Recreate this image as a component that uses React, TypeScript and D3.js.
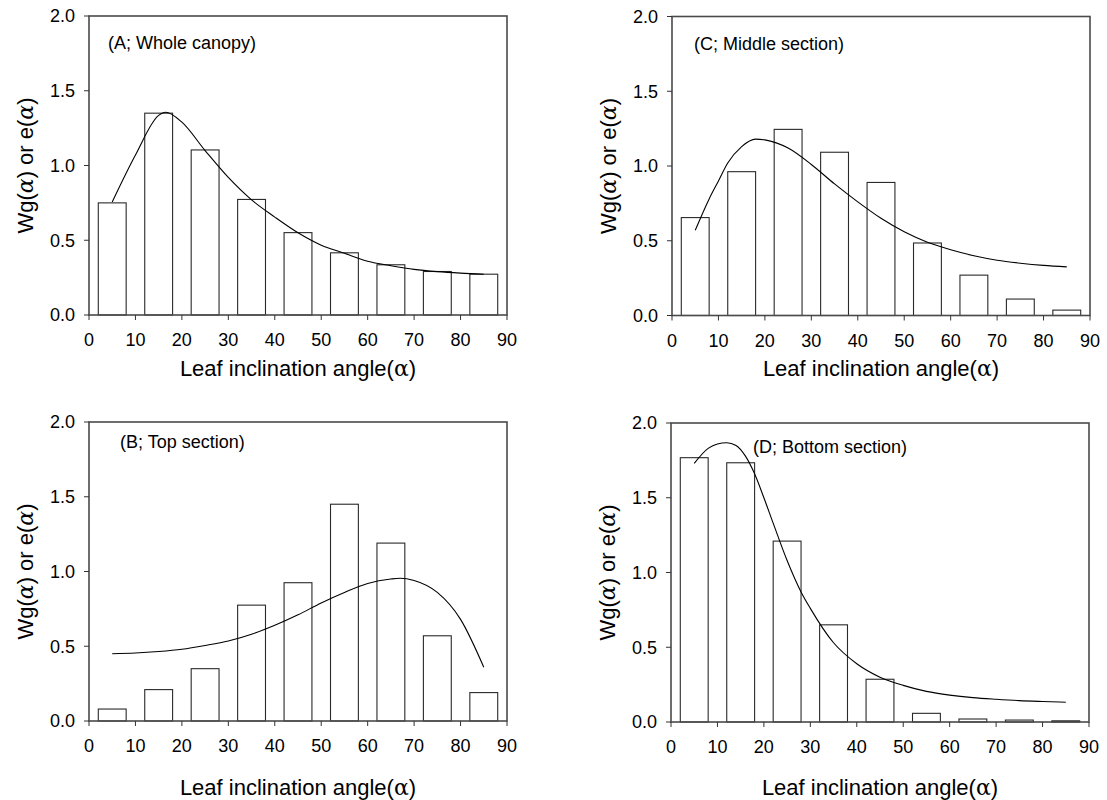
import React, { useEffect, useRef } from 'react';
import * as d3 from 'd3';

// bin centres of the leaf angle classes (bars are 6 degrees wide)
const binCentres = [5, 15, 25, 35, 45, 55, 65, 75, 85];

// measured distributions (bars)
const barsA = [0.75, 1.35, 1.104, 0.773, 0.551, 0.416, 0.336, 0.291, 0.273];
const barsB = [0.08, 0.21, 0.35, 0.775, 0.925, 1.45, 1.19, 0.57, 0.19];
const barsC = [0.655, 0.962, 1.245, 1.092, 0.89, 0.485, 0.27, 0.11, 0.036];
const barsD = [1.768, 1.734, 1.21, 0.65, 0.286, 0.058, 0.02, 0.013, 0.008];

// fitted curves
const curveAnglesA = [5, 10, 15, 16.5, 20, 25, 30, 35, 40, 45, 50, 55, 60, 65, 70, 75, 80, 85];
const curveA = [0.756, 1.07, 1.335, 1.356, 1.29, 1.1, 0.92, 0.77, 0.655, 0.55, 0.467, 0.413, 0.36, 0.33, 0.305, 0.29, 0.28, 0.273];

const curveAnglesB = [5, 10, 15, 20, 25, 30, 35, 40, 45, 50, 55, 60, 65, 67, 70, 75, 80, 85];
const curveB = [0.45, 0.455, 0.465, 0.48, 0.505, 0.535, 0.58, 0.64, 0.71, 0.79, 0.86, 0.92, 0.95, 0.955, 0.94, 0.86, 0.68, 0.36];

const curveAnglesC = [5, 8, 10, 12, 15, 18, 20, 25, 30, 35, 40, 45, 50, 55, 60, 65, 70, 75, 80, 85];
const curveC = [0.57, 0.78, 0.9, 1.02, 1.13, 1.18, 1.175, 1.12, 1.01, 0.88, 0.76, 0.65, 0.56, 0.49, 0.44, 0.4, 0.37, 0.35, 0.335, 0.325];

const curveAnglesD = [5, 8, 10, 12, 14, 16, 18, 20, 22, 25, 28, 30, 35, 40, 45, 50, 55, 60, 65, 70, 75, 80, 85];
const curveD = [1.73, 1.83, 1.86, 1.868, 1.85, 1.78, 1.66, 1.5, 1.33, 1.08, 0.87, 0.76, 0.53, 0.39, 0.3, 0.245, 0.205, 0.18, 0.163, 0.152, 0.143, 0.137, 0.132];

const xTicks = [0, 10, 20, 30, 40, 50, 60, 70, 80, 90];
const yTicks = [0, 0.5, 1.0, 1.5, 2.0];

const panels = [
  { label: '(A; Whole canopy)', bars: barsA, cx: curveAnglesA, cy: curveA, left: 89, top: 16, labelDx: 19, labelDy: 33, titleDy: 61 },
  { label: '(C; Middle section)', bars: barsC, cx: curveAnglesC, cy: curveC, left: 672, top: 16.5, labelDx: 22, labelDy: 33, titleDy: 60 },
  { label: '(B; Top section)', bars: barsB, cx: curveAnglesB, cy: curveB, left: 89, top: 422, labelDx: 31, labelDy: 26, titleDy: 74 },
  { label: '(D; Bottom section)', bars: barsD, cx: curveAnglesD, cy: curveD, left: 671, top: 423, labelDx: 82, labelDy: 30, titleDy: 73 },
];

const FONT = 'Liberation Sans, Arial, Helvetica, sans-serif';
const GREEK = 'DejaVu Serif, Times New Roman, serif';

const App = () => {
  const svgRef = useRef<SVGSVGElement>(null);

  useEffect(() => {
    const svg = d3.select(svgRef.current);
    svg.selectAll('*').remove();
    const width = 418;
    const height = 299;

    panels.forEach((p) => {
      const g = svg.append('g').attr('transform', `translate(${p.left},${p.top})`);
      const x = d3.scaleLinear().domain([0, 90]).range([0, width]);
      const y = d3.scaleLinear().domain([0, 2]).range([height, 0]);

      // bars
      g.selectAll('.bar').data(p.bars).join('rect')
        .attr('class', 'bar')
        .attr('x', (_, i) => x(binCentres[i] - 3))
        .attr('width', (_, i) => x(binCentres[i] + 3) - x(binCentres[i] - 3))
        .attr('y', (d) => y(d))
        .attr('height', (d) => height - y(d))
        .attr('fill', '#fff')
        .attr('stroke', '#2a2a2a')
        .attr('stroke-width', 1.1);

      // fitted curve
      const line = d3.line<number>()
        .x((_, i) => x(p.cx[i]))
        .y((d) => y(d))
        .curve(d3.curveMonotoneX);
      g.append('path')
        .attr('d', line(p.cy))
        .attr('fill', 'none')
        .attr('stroke', '#000')
        .attr('stroke-width', 1.1);

      // frame
      g.append('rect')
        .attr('width', width)
        .attr('height', height)
        .attr('fill', 'none')
        .attr('stroke', '#4a4a4a')
        .attr('stroke-width', 1.6);

      // x ticks
      g.selectAll('.xt').data(xTicks).join('line')
        .attr('class', 'xt')
        .attr('x1', (d) => x(d)).attr('x2', (d) => x(d))
        .attr('y1', height).attr('y2', height + 5)
        .attr('stroke', '#333');
      g.selectAll('.xl').data(xTicks).join('text')
        .attr('class', 'xl')
        .attr('x', (d) => x(d))
        .attr('y', height + 31)
        .attr('text-anchor', 'middle')
        .style('font-family', FONT)
        .style('font-size', '18px')
        .text((d) => d);

      // y ticks
      g.selectAll('.yt').data(yTicks).join('line')
        .attr('class', 'yt')
        .attr('x1', -5).attr('x2', 0)
        .attr('y1', (d) => y(d)).attr('y2', (d) => y(d))
        .attr('stroke', '#333');
      g.selectAll('.yl').data(yTicks).join('text')
        .attr('class', 'yl')
        .attr('x', -14)
        .attr('y', (d) => y(d))
        .attr('dy', '0.36em')
        .attr('text-anchor', 'end')
        .style('font-family', FONT)
        .style('font-size', '18px')
        .text((d) => d.toFixed(1));

      // panel label
      g.append('text')
        .attr('x', p.labelDx)
        .attr('y', p.labelDy)
        .style('font-family', FONT)
        .style('font-size', '18px')
        .text(p.label);

      // x title
      const xt = g.append('text')
        .attr('x', width / 2)
        .attr('y', height + p.titleDy)
        .attr('text-anchor', 'middle')
        .style('font-family', FONT)
        .style('font-size', '22px');
      xt.append('tspan').text('Leaf inclination angle(');
      xt.append('tspan').style('font-family', GREEK).text('α');
      xt.append('tspan').text(')');

      // y title
      const yt = g.append('text')
        .attr('transform', `translate(-56,${height / 2}) rotate(-90)`)
        .attr('text-anchor', 'middle')
        .style('font-family', FONT)
        .style('font-size', '22px');
      yt.append('tspan').text('Wg(');
      yt.append('tspan').style('font-family', GREEK).style('font-style', 'italic').text('α');
      yt.append('tspan').text(') or e(');
      yt.append('tspan').style('font-family', GREEK).style('font-style', 'italic').text('α');
      yt.append('tspan').text(')');
    });
  }, []);

  return (
    <svg
      ref={svgRef}
      width={1107}
      height={800}
      style={{ position: 'absolute', left: 0, top: 0, background: '#fff' }}
    />
  );
};

export default App;
